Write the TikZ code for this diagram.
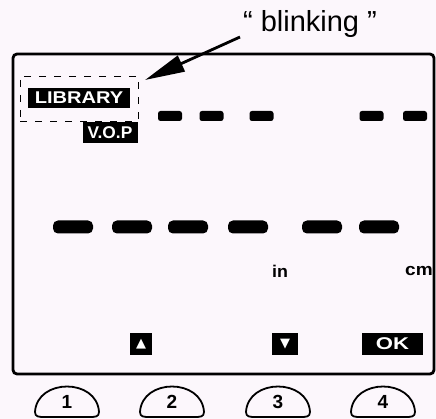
\documentclass[tikz,border=0pt]{standalone}
\usepackage{fontspec}
\setmainfont{Liberation Sans}
\newfontfamily\symfont{DejaVu Sans}
\usetikzlibrary{arrows.meta,shapes.misc}
\definecolor{bgpink}{RGB}{252,247,252}
\tikzset{
  lcdbox/.style={fill=black, text=white, inner sep=0pt, font=\bfseries\fontsize{17}{17}\selectfont},
  segsmall/.style={fill=black, rounded corners=2.5pt, minimum width=24pt, minimum height=10pt, inner sep=0pt},
  segbig/.style={fill=black, rounded corners=5pt, minimum width=40pt, minimum height=13pt, inner sep=0pt},
  screenbox/.style={draw=black, line width=2.8pt, rounded corners=4pt, fill=bgpink, inner sep=0pt},
  blinkframe/.style={draw=black, line width=0.9pt, dash pattern=on 7pt off 8pt, inner sep=0pt},
  blinkarrow/.style={line width=2.8pt, -{Triangle[length=40pt,width=17pt]}},
  keyline/.style={draw=black, line width=1.8pt},
  keylabel/.style={inner sep=0pt, font=\bfseries\fontsize{19}{19}\selectfont},
  unitlabel/.style={inner sep=0pt, font=\bfseries\fontsize{17}{17}\selectfont}
}
\begin{document}
\begin{tikzpicture}[x=1pt,y=-1pt]
\fill[bgpink] (0,0) rectangle (436,419);
\useasboundingbox (0,0) rectangle (436,419);

% screen
\node[screenbox, minimum width=421pt, minimum height=320pt] (scr) at (223.5,214) {};

% blinking label and arrow
\node[inner sep=0pt, font=\fontsize{29}{31}\selectfont] (blink) at (310,24) {“ blinking ”};
\coordinate (astart) at (240,37);

% dashed frame around LIBRARY
\node[blinkframe, minimum width=118pt, minimum height=45pt] (frame) at (79,98.5) {};
\coordinate (atip) at (145,80);
\draw[blinkarrow] (astart) -- (atip);

\node[lcdbox, minimum width=102pt, minimum height=20pt] (lib) at (79,98) {\scalebox{1.18}[1]{LIBRARY}};
\node[lcdbox, minimum width=55pt, minimum height=21pt] (vop) at (110,133) {\scalebox{1.02}[1]{V.O.P}};

% upper dashes
\node[segsmall] (a1) at (170,116) {};
\node[segsmall] (a2) at (211.5,116) {};
\node[segsmall] (a3) at (261.5,116) {};
\node[segsmall] (a4) at (371.5,116) {};
\node[segsmall] (a5) at (415,116) {};

% big segments
\node[segbig] (b1) at (73,227) {};
\node[segbig] (b2) at (132,227) {};
\node[segbig] (b3) at (188,227) {};
\node[segbig] (b4) at (248,227) {};
\node[segbig] (b5) at (322,227) {};
\node[segbig] (b6) at (379,227) {};

% units
\node[unitlabel] (uin) at (280,271) {\scalebox{1.05}[1]{in}};
\node[unitlabel] (ucm) at (419,271) {\scalebox{1.12}[1]{cm}};

% soft key icons
\node[lcdbox, minimum width=22pt, minimum height=22pt] (up) at (141,344) {\symfont\fontsize{13}{13}\selectfont ▲};
\node[lcdbox, minimum width=26pt, minimum height=22pt] (down) at (285,344) {\symfont\fontsize{13}{13}\selectfont ▼};
\node[lcdbox, minimum width=61pt, minimum height=22pt] (ok) at (392.5,344) {\scalebox{1.3}[1]{OK}};

% hardware keys
\foreach \n/\cx in {1/67,2/172,3/278,4/383} {
  \node[keylabel] (k\n) at (\cx,402) {\n};
  \draw[keyline] ([shift={(-32,10)}]k\n.center)
     .. controls ([shift={(-30,-24)}]k\n.center) and ([shift={(30,-24)}]k\n.center) .. ([shift={(32,10)}]k\n.center)
     .. controls ([shift={(32,15)}]k\n.center) and ([shift={(28,15)}]k\n.center) .. ([shift={(22,15)}]k\n.center)
     -- ([shift={(-22,15)}]k\n.center)
     .. controls ([shift={(-28,15)}]k\n.center) and ([shift={(-32,15)}]k\n.center) .. cycle;
}
\end{tikzpicture}
\end{document}
